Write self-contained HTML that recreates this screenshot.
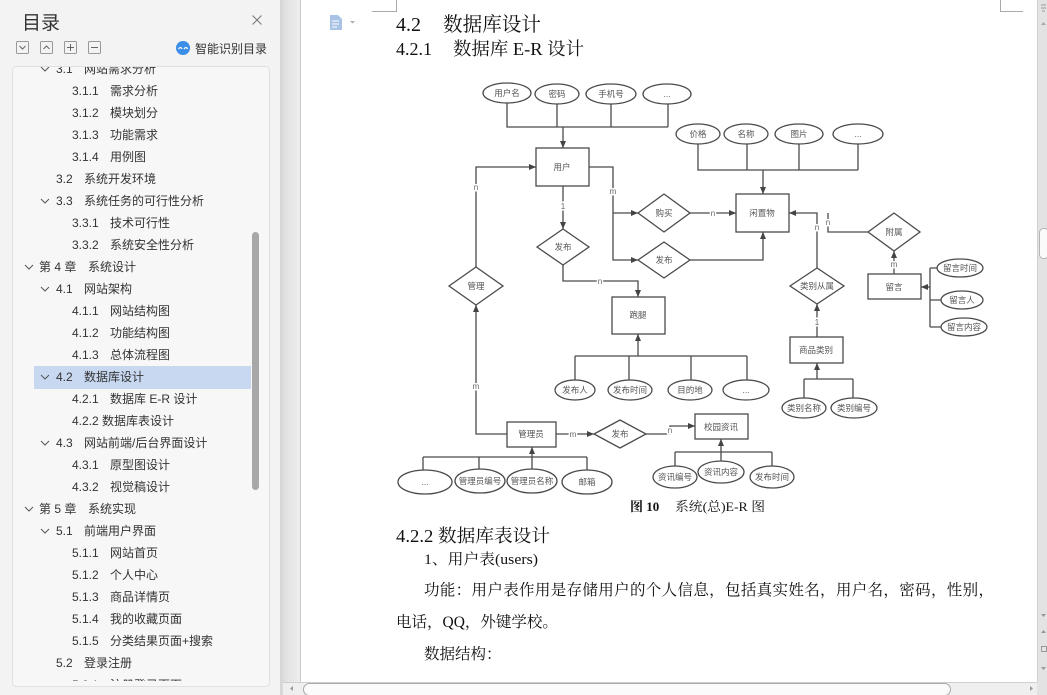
<!DOCTYPE html>
<html><head><meta charset="utf-8">
<style>
html,body{margin:0;padding:0;width:1047px;height:695px;overflow:hidden;background:#fff}
svg{display:block}
.toc{font-family:"Liberation Sans","Noto Sans CJK SC",sans-serif;font-size:12px;fill:#333}
.d{font-family:"Liberation Sans","Noto Sans CJK SC",sans-serif;font-size:8.5px;fill:#555;text-anchor:middle}
.lb{font-family:"Liberation Sans",sans-serif;font-size:8px;fill:#666;text-anchor:middle;stroke:#fff;stroke-width:3px;paint-order:stroke}
.doc{font-family:"Liberation Serif","Noto Serif CJK SC",serif;fill:#111}
</style></head><body>
<svg width="1047" height="695" viewBox="0 0 1047 695" xmlns="http://www.w3.org/2000/svg">
<defs>
<marker id="ar" markerWidth="8" markerHeight="8" refX="7" refY="3" orient="auto" markerUnits="userSpaceOnUse"><path d="M0,0 L7,3 L0,6 z" fill="#444"/></marker>
<linearGradient id="sh" x1="0" x2="1"><stop offset="0" stop-color="#d4d4d4"/><stop offset="0.3" stop-color="#e2e2e2"/><stop offset="1" stop-color="#eeeeee"/></linearGradient>
<clipPath id="pc"><rect x="13" y="67" width="256" height="614"/></clipPath>
</defs>

<!-- ===== Sidebar ===== -->
<rect x="0" y="0" width="280" height="695" fill="#f3f3f3"/>
<text x="22" y="29" font-family="Liberation Sans,Noto Sans CJK SC,sans-serif" font-size="19" fill="#333">目录</text>
<path d="M252.5,15.5 L261.5,24.5 M261.5,15.5 L252.5,24.5" stroke="#777" stroke-width="1"/>
<!-- icon row -->
<g fill="none" stroke="#999" stroke-width="1">
<rect x="16.5" y="41.5" width="12" height="12" rx="1"/>
<rect x="40.5" y="41.5" width="12" height="12" rx="1"/>
<rect x="64.5" y="41.5" width="12" height="12" rx="1"/>
<rect x="88.5" y="41.5" width="12" height="12" rx="1"/>
<path d="M19.5,46 l3,3 l3,-3" stroke="#666"/>
<path d="M43.5,49 l3,-3 l3,3" stroke="#666"/>
<path d="M67,47.5 h7 M70.5,44 v7" stroke="#666"/>
<path d="M91,47.5 h7" stroke="#666"/>
</g>
<circle cx="183" cy="48" r="7" fill="#3d8ee8"/>
<path d="M178.5,49 q2,-3 3.5,0 M184,49 q2,-3 3.5,0" stroke="#fff" stroke-width="1.3" fill="none"/>
<text x="195" y="53" class="toc">智能识别目录</text>

<!-- panel -->
<rect x="12.5" y="66.5" width="257" height="620" rx="4" fill="#f7f7f7" stroke="#e0e0e0"/>
<g clip-path="url(#pc)">
<rect x="34" y="366" width="217" height="23" fill="#c8d8f1"/>
<g fill="none" stroke="#555" stroke-width="1">
<path d="M41,67 l4,4 l4,-4"/>
<path d="M41,199 l4,4 l4,-4"/>
<path d="M25,265 l4,4 l4,-4"/>
<path d="M41,287 l4,4 l4,-4"/>
<path d="M41,375 l4,4 l4,-4"/>
<path d="M41,441 l4,4 l4,-4"/>
<path d="M25,507 l4,4 l4,-4"/>
<path d="M41,529 l4,4 l4,-4"/>
</g>
<g class="toc">
<text x="56" y="73">3.1</text><text x="84" y="73">网站需求分析</text>
<text x="72" y="95">3.1.1</text><text x="110" y="95">需求分析</text>
<text x="72" y="117">3.1.2</text><text x="110" y="117">模块划分</text>
<text x="72" y="139">3.1.3</text><text x="110" y="139">功能需求</text>
<text x="72" y="161">3.1.4</text><text x="110" y="161">用例图</text>
<text x="56" y="183">3.2</text><text x="84" y="183">系统开发环境</text>
<text x="56" y="205">3.3</text><text x="84" y="205">系统任务的可行性分析</text>
<text x="72" y="227">3.3.1</text><text x="110" y="227">技术可行性</text>
<text x="72" y="249">3.3.2</text><text x="110" y="249">系统安全性分析</text>
<text x="39" y="271">第 4 章</text><text x="88" y="271">系统设计</text>
<text x="56" y="293">4.1</text><text x="84" y="293">网站架构</text>
<text x="72" y="315">4.1.1</text><text x="110" y="315">网站结构图</text>
<text x="72" y="337">4.1.2</text><text x="110" y="337">功能结构图</text>
<text x="72" y="359">4.1.3</text><text x="110" y="359">总体流程图</text>
<text x="56" y="381">4.2</text><text x="84" y="381">数据库设计</text>
<text x="72" y="403">4.2.1</text><text x="110" y="403">数据库 E-R 设计</text>
<text x="72" y="425">4.2.2 数据库表设计</text>
<text x="56" y="447">4.3</text><text x="84" y="447">网站前端/后台界面设计</text>
<text x="72" y="469">4.3.1</text><text x="110" y="469">原型图设计</text>
<text x="72" y="491">4.3.2</text><text x="110" y="491">视觉稿设计</text>
<text x="39" y="513">第 5 章</text><text x="88" y="513">系统实现</text>
<text x="56" y="535">5.1</text><text x="84" y="535">前端用户界面</text>
<text x="72" y="557">5.1.1</text><text x="110" y="557">网站首页</text>
<text x="72" y="579">5.1.2</text><text x="110" y="579">个人中心</text>
<text x="72" y="601">5.1.3</text><text x="110" y="601">商品详情页</text>
<text x="72" y="623">5.1.4</text><text x="110" y="623">我的收藏页面</text>
<text x="72" y="645">5.1.5</text><text x="110" y="645">分类结果页面+搜索</text>
<text x="56" y="667">5.2</text><text x="84" y="667">登录注册</text>
<text x="72" y="689">5.2.1</text><text x="110" y="689">注册登录页面</text>
</g>
<rect x="252" y="232" width="7" height="258" rx="3.5" fill="#a8a8a8"/>
</g>

<!-- gutter -->
<rect x="280" y="0" width="20" height="695" fill="url(#sh)"/>
<line x1="300.5" y1="0" x2="300.5" y2="682" stroke="#c9c9c9"/>

<!-- right scrollbar -->
<rect x="1037" y="0" width="10" height="695" fill="#e3e3e3"/>
<line x1="1037.5" y1="0" x2="1037.5" y2="682" stroke="#d0d0d0"/>
<path d="M1041,5 h5 M1041,8 h5 M1042,11 h3" stroke="#999" stroke-width="1"/>
<path d="M1041,25 l2.5,-3 l2.5,3 z" fill="#aaa"/>
<rect x="1039.5" y="228.5" width="9" height="30" rx="4" fill="#fafafa" stroke="#b5b5b5"/>
<path d="M1041,614 l2.5,3 l2.5,-3 z M1041,633 l2.5,-3 l2.5,3 z M1041,667 l2.5,3 l2.5,-3 z" fill="#999"/>
<rect x="1041.5" y="646.5" width="5" height="5" fill="none" stroke="#999"/>

<!-- bottom scrollbar -->
<rect x="283" y="682" width="754" height="13" fill="#efefef"/>
<line x1="283" y1="682.5" x2="1037" y2="682.5" stroke="#cfcfcf"/>
<rect x="303.5" y="683.5" width="647" height="12" rx="6" fill="#fbfbfb" stroke="#a9a9a9"/>
<path d="M293,686 l-3,2.5 l3,2.5 z M1030,686 l3,2.5 l-3,2.5 z" fill="#999"/>

<!-- page marks -->
<path d="M372,11.5 H396.5 V0 M1000.5,0 V11.5 H1023" stroke="#aaa" fill="none"/>
<path d="M330,15 h8 l4,4 v11 h-12 z" fill="#a9c3e6"/>
<path d="M332,21 h7 M332,24 h7 M332,27 h5" stroke="#fff" stroke-width="1"/>
<path d="M350,21 l2.5,2.5 l2.5,-2.5 z" fill="#aaa"/>

<!-- headings -->
<text class="doc" x="396" y="31" font-size="20">4.2</text>
<text class="doc" x="443" y="31" font-size="20" textLength="98" lengthAdjust="spacingAndGlyphs">数据库设计</text>
<text class="doc" x="396" y="55" font-size="18">4.2.1</text>
<text class="doc" x="453" y="55" font-size="18" textLength="131" lengthAdjust="spacingAndGlyphs">数据库 E-R 设计</text>

<!-- ===== ER diagram ===== -->
<g stroke="#4a4a4a" stroke-width="1.3" fill="none">
<!-- user attrs -->
<path d="M507,103 V127 H668 M557,104 V127 M611,104 V127 M668,104 V127"/>
<path d="M563,127 V148" marker-end="url(#ar)"/>
<!-- goods attrs -->
<path d="M698,144 V170 H858 M747,144 V170 M799,144 V170 M858,144 V170"/>
<path d="M763,170 V194" marker-end="url(#ar)"/>
<!-- user relations -->
<path d="M476,267 V167 H536" marker-end="url(#ar)"/>
<path d="M589,167 H613 V260 H638" marker-end="url(#ar)"/>
<path d="M613,213 H638" marker-end="url(#ar)"/>
<path d="M563,186 V229" marker-end="url(#ar)"/>
<path d="M563,265 V281 H638 V297" marker-end="url(#ar)"/>
<path d="M690,213 H736" marker-end="url(#ar)"/>
<path d="M690,260 H763 V232" marker-end="url(#ar)"/>
<path d="M817,268 V213 H789" marker-end="url(#ar)"/>
<path d="M868,232 H828 V213"/>
<path d="M894,274 V251" marker-end="url(#ar)"/>
<!-- message attrs -->
<path d="M930,268 V327 M930,268 H937 M930,300 H941 M930,327 H941"/>
<path d="M930,287 H921" marker-end="url(#ar)"/>
<!-- category -->
<path d="M817,337 V304" marker-end="url(#ar)"/>
<path d="M804,379 H853 M804,379 V398 M853,379 V398"/>
<path d="M817,379 V363" marker-end="url(#ar)"/>
<!-- errand attrs -->
<path d="M575,356 H747 M575,356 V380 M629,356 V380 M691,356 V380 M747,356 V380"/>
<path d="M638,356 V334" marker-end="url(#ar)"/>
<!-- admin -->
<path d="M507,434 H476 V305" marker-end="url(#ar)"/>
<path d="M556,434 H594" marker-end="url(#ar)"/>
<path d="M646,434 H670 V426 H695" marker-end="url(#ar)"/>
<path d="M423,457 H587 M423,457 V470 M479,457 V469 M587,457 V470"/>
<path d="M532,469 V447" marker-end="url(#ar)"/>
<path d="M675,452 H772 M675,452 V466 M772,452 V466"/>
<path d="M721,461 V439" marker-end="url(#ar)"/>
</g>

<g stroke="#4a4a4a" stroke-width="1.3" fill="#fff">
<!-- entities -->
<rect x="536" y="148" width="53" height="38"/>
<rect x="736" y="194" width="53" height="38"/>
<rect x="612" y="297" width="53" height="37"/>
<rect x="868" y="274" width="53" height="25"/>
<rect x="790" y="337" width="53" height="26"/>
<rect x="507" y="422" width="49" height="25"/>
<rect x="695" y="414" width="53" height="25"/>
<!-- diamonds -->
<polygon points="638,213 664,194 690,213 664,232"/>
<polygon points="638,260 664,242 690,260 664,278"/>
<polygon points="537,247 563,229 589,247 563,265"/>
<polygon points="449,286 476,267 503,286 476,305"/>
<polygon points="868,232 894,213 920,232 894,251"/>
<polygon points="790,286 817,268 844,286 817,304"/>
<polygon points="594,434 620,420 646,434 620,448"/>
<!-- ellipses -->
<ellipse cx="507" cy="93" rx="24" ry="10"/>
<ellipse cx="557" cy="94" rx="22" ry="10"/>
<ellipse cx="611" cy="94" rx="25" ry="10"/>
<ellipse cx="667" cy="94" rx="24" ry="10"/>
<ellipse cx="698" cy="134" rx="22" ry="10"/>
<ellipse cx="746" cy="134" rx="22" ry="10"/>
<ellipse cx="799" cy="134" rx="24" ry="10"/>
<ellipse cx="858" cy="134" rx="25" ry="10"/>
<ellipse cx="575" cy="390" rx="20" ry="10"/>
<ellipse cx="630" cy="390" rx="22" ry="10"/>
<ellipse cx="690" cy="390" rx="22" ry="10"/>
<ellipse cx="746" cy="390" rx="23" ry="10"/>
<ellipse cx="960" cy="268" rx="23" ry="9"/>
<ellipse cx="962" cy="300" rx="21" ry="9"/>
<ellipse cx="964" cy="327" rx="23" ry="9"/>
<ellipse cx="804" cy="408" rx="22" ry="10"/>
<ellipse cx="854" cy="408" rx="23" ry="10"/>
<ellipse cx="425" cy="482" rx="27" ry="12"/>
<ellipse cx="480" cy="481" rx="25" ry="12"/>
<ellipse cx="532" cy="481" rx="25" ry="12"/>
<ellipse cx="587" cy="482" rx="25" ry="12"/>
<ellipse cx="675" cy="477" rx="22" ry="11"/>
<ellipse cx="721" cy="472" rx="23" ry="11"/>
<ellipse cx="772" cy="477" rx="22" ry="11"/>
</g>

<g class="d">
<text x="562" y="170">用户</text>
<text x="762" y="216">闲置物</text>
<text x="638" y="318">跑腿</text>
<text x="894" y="290">留言</text>
<text x="816" y="353">商品类别</text>
<text x="531" y="437">管理员</text>
<text x="721" y="430">校园资讯</text>
<text x="664" y="216">购买</text>
<text x="664" y="263">发布</text>
<text x="563" y="250">发布</text>
<text x="476" y="289">管理</text>
<text x="894" y="235">附属</text>
<text x="817" y="289">类别从属</text>
<text x="620" y="437">发布</text>
<text x="507" y="96">用户名</text>
<text x="557" y="97">密码</text>
<text x="611" y="97">手机号</text>
<text x="667" y="97">...</text>
<text x="698" y="137">价格</text>
<text x="746" y="137">名称</text>
<text x="799" y="137">图片</text>
<text x="858" y="137">...</text>
<text x="575" y="393">发布人</text>
<text x="630" y="393">发布时间</text>
<text x="690" y="393">目的地</text>
<text x="746" y="393">...</text>
<text x="960" y="271">留言时间</text>
<text x="962" y="303">留言人</text>
<text x="964" y="330">留言内容</text>
<text x="804" y="411">类别名称</text>
<text x="854" y="411">类别编号</text>
<text x="425" y="485">...</text>
<text x="480" y="484">管理员编号</text>
<text x="532" y="484">管理员名称</text>
<text x="587" y="485">邮箱</text>
<text x="675" y="480">资讯编号</text>
<text x="721" y="475">资讯内容</text>
<text x="772" y="480">发布时间</text>
</g>

<g class="lb">
<text x="476" y="190">n</text>
<text x="613" y="194">m</text>
<text x="563" y="209">1</text>
<text x="600" y="284">n</text>
<text x="713" y="216">n</text>
<text x="817" y="230">n</text>
<text x="828" y="225">n</text>
<text x="894" y="267">m</text>
<text x="817" y="325">1</text>
<text x="476" y="389">m</text>
<text x="573" y="437">m</text>
<text x="670" y="433">n</text>
</g>

<!-- caption -->
<text class="doc" x="630" y="511" font-size="13" font-weight="bold">图 10</text>
<text class="doc" x="675" y="511" font-size="13" textLength="90" lengthAdjust="spacingAndGlyphs">系统(总)E-R 图</text>

<!-- body text -->
<text class="doc" x="396" y="542" font-size="18" textLength="154" lengthAdjust="spacingAndGlyphs">4.2.2 数据库表设计</text>
<text class="doc" x="424" y="564" font-size="15" textLength="114" lengthAdjust="spacingAndGlyphs">1、用户表(users)</text>
<text class="doc" x="424" y="595" font-size="15.5" textLength="570" lengthAdjust="spacing">功能：用户表作用是存储用户的个人信息，包括真实姓名，用户名，密码，性别，</text>
<text class="doc" x="396" y="627" font-size="15.5">电话，QQ，外键学校。</text>
<text class="doc" x="424" y="659" font-size="15.5">数据结构：</text>
</svg>
</body></html>
